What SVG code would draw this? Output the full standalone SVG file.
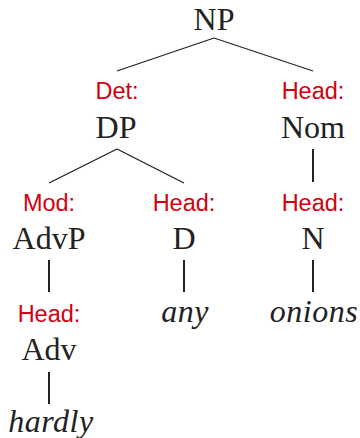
<svg xmlns="http://www.w3.org/2000/svg" width="360" height="438" viewBox="0 0 360 438">
<style>
.n{font-family:"Liberation Serif",serif;font-size:32px;fill:#222;text-anchor:middle}
.w{font-family:"Liberation Serif",serif;font-size:32px;font-style:italic;fill:#222;text-anchor:middle;letter-spacing:0.5px}
.f{font-family:"Liberation Sans",sans-serif;font-size:23.5px;fill:#d40010;text-anchor:middle}
.d{stroke:#222;stroke-width:1.3;fill:none}
.v{stroke:#222;stroke-width:2;fill:none}
</style>
<rect width="360" height="438" fill="#fff"/>
<g id="connectors">
<line class="d" x1="214" y1="38" x2="117" y2="71"/>
<line class="d" x1="214" y1="38" x2="313" y2="71"/>
<line class="d" x1="117" y1="149" x2="49" y2="183"/>
<line class="d" x1="117" y1="149" x2="184" y2="183"/>
<line class="v" x1="313" y1="149" x2="313" y2="182"/>
<line class="v" x1="49" y1="260" x2="49" y2="292"/>
<line class="v" x1="184" y1="260" x2="184" y2="292"/>
<line class="v" x1="313" y1="260" x2="313" y2="292"/>
<line class="v" x1="49" y1="372" x2="49" y2="404"/>
</g>
<g id="np"><text class="n" x="214" y="30">NP</text></g>
<g id="dp"><text class="f" x="117" y="99">Det:</text><text class="n" x="116" y="138">DP</text></g>
<g id="nom"><text class="f" x="313" y="99">Head:</text><text class="n" x="313" y="138">Nom</text></g>
<g id="advp"><text class="f" x="49" y="211">Mod:</text><text class="n" x="49" y="249">AdvP</text></g>
<g id="d"><text class="f" x="184" y="211">Head:</text><text class="n" x="184" y="249">D</text></g>
<g id="n"><text class="f" x="313" y="211">Head:</text><text class="n" x="313" y="249">N</text></g>
<g id="adv"><text class="f" x="49" y="322">Head:</text><text class="n" x="49" y="360">Adv</text></g>
<g id="any"><text class="w" x="185" y="322">any</text></g>
<g id="onions"><text class="w" x="314" y="322">onions</text></g>
<g id="hardly"><text class="w" x="51" y="432">hardly</text></g>
</svg>
